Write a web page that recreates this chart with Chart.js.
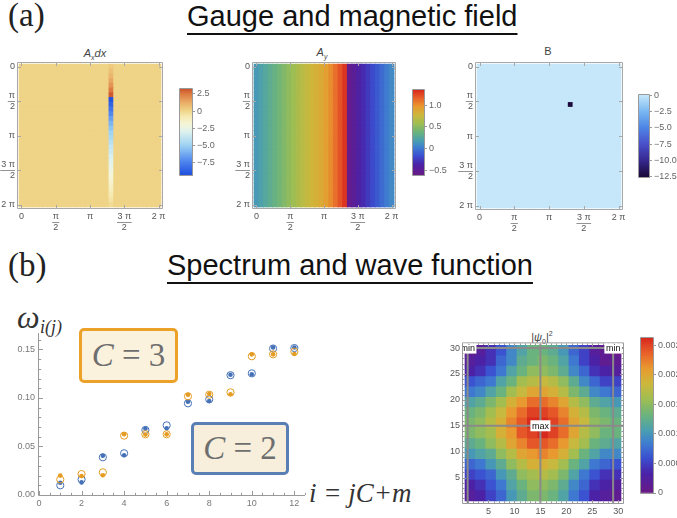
<!DOCTYPE html>
<html>
<head>
<meta charset="utf-8">
<script src="https://cdn.jsdelivr.net/npm/chart.js@4.4.1/dist/chart.umd.min.js"></script>
<style>
html, body { margin: 0; padding: 0; background: #fff; }
body { position: relative; width: 677px; height: 518px; overflow: hidden; font-family: "Liberation Sans", Arial, sans-serif; }
canvas { position: absolute; }
.t { position: absolute; white-space: nowrap; }
.head { font-size: 29px; line-height: 29px; color: #111; text-decoration: underline; text-decoration-thickness: 1.5px;
        text-underline-offset: 7px; text-decoration-skip-ink: none; }
.lab { font-family: "Liberation Serif", serif; font-size: 33px; line-height: 33px; color: #222; }
.ptitle { font-size: 11px; line-height: 12px; color: #444; text-align: center; }
.cbox { position: absolute; box-sizing: border-box; border: 3px solid; border-radius: 5px; display: flex;
        align-items: center; justify-content: center; font-family: "Liberation Serif", serif; font-size: 33px; color: #6e6e6e; }
.serif { font-family: "Liberation Serif", serif; font-style: italic; color: #333; }
</style>
</head>
<body>

<div class="t lab" style="left:8px;top:-1px">(a)</div>
<div class="t head" style="left:187px;top:2px">Gauge and magnetic field</div>
<div class="t lab" style="left:8px;top:249px">(b)</div>
<div class="t head" style="left:167px;top:251px">Spectrum and wave function</div>

<div class="t ptitle" style="left:60px;top:47px;width:70px"><i>A</i><sub style="font-size:7px"><i>x</i></sub><i>dx</i></div>
<div class="t ptitle" style="left:292px;top:46px;width:60px"><i>A</i><sub style="font-size:7px"><i>y</i></sub></div>
<div class="t ptitle" style="left:518px;top:45px;width:60px">B</div>
<div class="t ptitle" style="left:507px;top:328px;width:70px">|<i>ψ</i><sub style="font-size:7px">0</sub>|<sup style="font-size:7px">2</sup></div>

<div class="t serif" style="left:17px;top:301px;font-size:32px;line-height:32px">ω</div>
<div class="t serif" style="left:40px;top:318px;font-size:18px;line-height:18px">i(j)</div>
<div class="t serif" style="left:309px;top:480px;font-size:27px;line-height:27px">i = jC+m</div>

<script>
// ---------- data ----------
const N = 30;                       // lattice points per side
const TWO_PI = 2 * Math.PI;
const piTicks = [0, Math.PI / 2, Math.PI, 3 * Math.PI / 2, 2 * Math.PI];
const piLabels = ['0', ['π', '2'], 'π', ['3 π', '2'], '2 π'];

// A_x dx : zero except the string column, values from top row to bottom row
const axColumn = 19;
const axStrip = [0.3, 0.6, 0.9, 1.3, 1.8, 2.4, 3.0, -9.2, -8.6, -8.0, -7.3, -6.6, -6.0, -5.5, -5.0,
                 -4.6, -4.2, -3.8, -3.5, -3.2, -2.9, -2.6, -2.3, -2.0, -1.8, -1.5, -1.2, -0.9, -0.6, -0.3];

// A_y : constant along y, one value per column
const ayColumns = [0.14, 0.19, 0.24, 0.29, 0.34, 0.39, 0.45, 0.51, 0.56, 0.62, 0.67, 0.72, 0.77, 0.82, 0.86,
                   0.92, 1.00, 1.10, 1.20, 1.30, -0.58, -0.50, -0.42, -0.35, -0.28, -0.21, -0.14, -0.07, 0.00, 0.06];

// B : one flux plaquette
const bCell = { col: 19, row: 8, value: -12.5 };

// colour bar ticks
const axBarTicks = [-7.5, -5, -2.5, 0, 2.5];
const ayBarTicks = [-0.5, 0, 0.5, 1.0];
const bBarTicks = [-12.5, -10, -7.5, -5, -2.5, 0];

// spectrum, i = 1..12
const levels = [1, 2, 3, 4, 5, 6, 7, 8, 9, 10, 11, 12];
const c3Filled = [0.0200, 0.0196, 0.0203, 0.0626, 0.0623, 0.0625, 0.1034, 0.1041, 0.1038, 0.1450, 0.1450, 0.1454];
const c3Open   = [0.0160, 0.0216, 0.0234, 0.0612, 0.0626, 0.0626, 0.1017, 0.1034, 0.1058, 0.1430, 0.1450, 0.1477];
const c2Filled = [0.0127, 0.0130, 0.0405, 0.0410, 0.0684, 0.0687, 0.0962, 0.0969, 0.1240, 0.1244, 0.1520, 0.1520];
const c2Open   = [0.0100, 0.0160, 0.0389, 0.0430, 0.0670, 0.0718, 0.0945, 0.0986, 0.1235, 0.1254, 0.1510, 0.1515];
const spectrumXTicks = [0, 2, 4, 6, 8, 10, 12];
const spectrumYTicks = [0, 0.05, 0.10, 0.15];

// |psi_0|^2 in units of 1e-4, 2x2 blocks, rows from top (y=29.5) to bottom (y=1.5)
const psiRows = [
  [1, 2, 4, 6, 9, 11, 13, 13, 12, 10, 7, 5, 2, 1, 0],
  [2, 3, 4, 7, 9, 12, 13, 14, 13, 11, 8, 5, 3, 1, 1],
  [3, 4, 6, 8, 11, 13, 15, 15, 14, 12, 9, 7, 4, 3, 2],
  [6, 7, 8, 11, 13, 16, 17, 18, 17, 15, 12, 9, 7, 5, 5],
  [8, 9, 11, 13, 16, 18, 20, 20, 19, 17, 14, 12, 9, 8, 7],
  [11, 12, 14, 16, 19, 21, 23, 23, 22, 20, 17, 15, 12, 11, 10],
  [13, 14, 16, 18, 21, 23, 25, 25, 24, 22, 19, 17, 14, 13, 12],
  [14, 15, 17, 19, 22, 24, 26, 26, 25, 23, 20, 18, 15, 14, 13],
  [14, 15, 16, 19, 21, 24, 25, 26, 25, 23, 20, 17, 15, 13, 13],
  [12, 13, 15, 17, 20, 22, 24, 24, 23, 21, 18, 16, 13, 12, 11],
  [10, 11, 12, 15, 17, 20, 21, 22, 21, 19, 16, 13, 11, 9, 9],
  [7, 8, 10, 12, 15, 17, 19, 19, 18, 16, 13, 11, 8, 7, 6],
  [5, 6, 7, 10, 12, 15, 16, 17, 16, 14, 11, 8, 6, 4, 4],
  [3, 4, 6, 8, 11, 13, 15, 15, 14, 12, 9, 7, 4, 3, 2],
  [2, 3, 5, 7, 10, 12, 14, 14, 13, 11, 8, 6, 3, 2, 1]
];
const psiMax = 26.2;
const psiBarTicks = [0, 5, 10, 15, 20, 25];
const waveTicks = [5, 10, 15, 20, 25, 30];
const waveLinesX = [1, 15, 29];
const waveLinesY = [15, 30];
const waveMarks = [{ x: 1, y: 30, text: 'min' }, { x: 29, y: 30, text: 'min' }, { x: 15, y: 15, text: 'max' }];

// ---------- colour maps ----------
function makeMap(stops) {
  const s = stops.map(([v, c]) => [v, parseInt(c.slice(1, 3), 16), parseInt(c.slice(3, 5), 16), parseInt(c.slice(5, 7), 16)]);
  return v => {
    let a = s[0], b = s[s.length - 1];
    if (v <= a[0]) b = a;
    else if (v >= b[0]) a = b;
    else for (let i = 1; i < s.length; i++) if (v <= s[i][0]) { a = s[i - 1]; b = s[i]; break; }
    const t = b[0] === a[0] ? 0 : (v - a[0]) / (b[0] - a[0]);
    return 'rgb(' + [1, 2, 3].map(k => Math.round(a[k] + (b[k] - a[k]) * t)).join(',') + ')';
  };
}
const rainbowStops = [[0, '#6a1b86'], [0.12, '#4a22a8'], [0.22, '#3b4fd0'], [0.32, '#3f7fd0'], [0.40, '#4a9fb0'],
  [0.50, '#6cb47c'], [0.60, '#9ebe52'], [0.70, '#cdb83c'], [0.80, '#e89a30'], [0.90, '#e8602a'], [1, '#d6261e']];
const rainbow = (lo, hi) => makeMap(rainbowStops.map(([f, c]) => [lo + f * (hi - lo), c]));

const axMap = makeMap([[-9.3, '#2150de'], [-7.5, '#4a82ee'], [-5, '#9fd3f3'], [-3.0, '#dff2ee'], [-2.0, '#f5f5d8'],
  [-0.8, '#f6e9b0'], [0, '#efd386'], [1.2, '#e9ac66'], [2.4, '#dc7a40'], [3.2, '#c9512a']]);
const ayMap = rainbow(-0.62, 1.35);
const bMap = makeMap([[-12.5, '#1c0a3c'], [-10, '#382a94'], [-7.5, '#4a52cc'], [-5, '#4e86e6'], [-2.5, '#7ab8f2'], [0, '#c6e7fa']]);
const psiMap = rainbow(0, psiMax);

// ---------- chart setup ----------
Chart.defaults.font.family = '"Liberation Sans", Arial, sans-serif';
Chart.defaults.font.size = 9;
Chart.defaults.color = '#555';
Chart.defaults.animation = false;
Chart.defaults.responsive = false;
Chart.defaults.events = [];
Chart.defaults.plugins.legend.display = false;
Chart.defaults.plugins.tooltip.enabled = false;

const noGrid = { display: false, drawTicks: false };

function place(left, top, w, h) {
  const c = document.createElement('canvas');
  c.width = w; c.height = h;
  c.style.left = left + 'px'; c.style.top = top + 'px';
  c.style.width = w + 'px'; c.style.height = h + 'px';
  document.body.appendChild(c);
  return c;
}

// frame / axis lines with inward tick marks
const tickFrame = {
  id: 'tickFrame',
  afterDatasetsDraw(chart, args, o) {
    const { ctx, chartArea: a, scales } = chart;
    ctx.save();
    ctx.strokeStyle = o.color || '#999';
    ctx.lineWidth = 1;
    ctx.beginPath();
    if (o.box) ctx.rect(a.left - 0.5, a.top - 0.5, a.right - a.left + 1, a.bottom - a.top + 1);
    else {
      ctx.moveTo(a.left - 0.5, a.top); ctx.lineTo(a.left - 0.5, a.bottom + 0.5); ctx.lineTo(a.right, a.bottom + 0.5);
    }
    if (!o.noTicks) {
      const len = o.len || 3;
      if (scales.x) scales.x.ticks.forEach(t => {
        const px = Math.round(scales.x.getPixelForValue(t.value)) + 0.5;
        const l = t.label === '' ? len * 0.55 : len;
        ctx.moveTo(px, a.bottom); ctx.lineTo(px, a.bottom - l);
        if (o.box) { ctx.moveTo(px, a.top); ctx.lineTo(px, a.top + l); }
      });
      if (scales.y) scales.y.ticks.forEach(t => {
        const py = Math.round(scales.y.getPixelForValue(t.value)) + 0.5;
        const l = t.label === '' ? len * 0.55 : len;
        ctx.moveTo(a.left, py); ctx.lineTo(a.left + l, py);
        if (o.box) { ctx.moveTo(a.right, py); ctx.lineTo(a.right - l, py); }
      });
    }
    ctx.stroke();
    ctx.restore();
  }
};

// horizontal bars for stacked fraction tick labels
const fracBars = {
  id: 'fracBars',
  afterDraw(chart) {
    const { ctx } = chart;
    ctx.save();
    ctx.strokeStyle = '#777'; ctx.lineWidth = 0.8;
    ctx.font = '9px "Liberation Sans", Arial, sans-serif';
    const lh = 9 * 1.2;
    ['x', 'y'].forEach(id => {
      const sc = chart.scales[id];
      const pad = sc.options.ticks.padding;
      sc.ticks.forEach(t => {
        if (!Array.isArray(t.label)) return;
        const w = Math.max(...t.label.map(s => ctx.measureText(s).width)) + 1;
        const p = sc.getPixelForValue(t.value);
        ctx.beginPath();
        if (id === 'x') {
          const y = Math.round(sc.top + pad + lh) + 0.5;
          ctx.moveTo(p - w / 2, y); ctx.lineTo(p + w / 2, y);
        } else {
          const x = sc.right - pad;
          const y = Math.round(p) + 0.5;
          ctx.moveTo(x - w, y); ctx.lineTo(x, y);
        }
        ctx.stroke();
      });
    });
    ctx.restore();
  }
};

// white boxed labels on the wave function map
const markLabels = {
  id: 'markLabels',
  afterDatasetsDraw(chart, args, o) {
    const { ctx, chartArea: a, scales } = chart;
    ctx.save();
    ctx.beginPath(); ctx.rect(a.left, a.top, a.right - a.left, a.bottom - a.top); ctx.clip();
    ctx.font = '9px "Liberation Sans", Arial, sans-serif';
    ctx.textAlign = 'center'; ctx.textBaseline = 'middle';
    o.marks.forEach(m => {
      const px = scales.x.getPixelForValue(m.x), py = scales.y.getPixelForValue(m.y);
      const w = ctx.measureText(m.text).width + 3;
      ctx.fillStyle = '#fff';
      ctx.fillRect(px - w / 2, py - 5.5, w, 11);
      ctx.fillStyle = '#111';
      ctx.fillText(m.text, px, py + 0.5);
    });
    ctx.restore();
  }
};

const cellRadius = (dx, dy) => ctx => {
  const { x, y } = ctx.chart.scales;
  const w = Math.abs(x.getPixelForValue(dx) - x.getPixelForValue(0));
  const h = Math.abs(y.getPixelForValue(dy) - y.getPixelForValue(0));
  return (Math.max(w, h) + 0.8) / Math.SQRT2;
};

// ---------- top row: gauge field maps ----------
const step = TWO_PI / (N - 1);
function latticeCells(valueAt) {
  const cells = [];
  for (let j = 0; j < N; j++) for (let k = 0; k < N; k++) cells.push({ x: k * step, y: j * step, v: valueAt(k, j) });
  return cells;
}

function piMap(canvas, cells, cmap, pad, yw, xh) {
  const piAxis = extra => Object.assign({
    min: -0.16, max: 6.44,
    afterBuildTicks: s => { s.ticks = piTicks.map(v => ({ value: v })); },
    grid: noGrid, border: { display: false }
  }, extra);
  return new Chart(canvas, {
    type: 'scatter',
    data: { datasets: [{ data: cells, pointStyle: 'rect', borderWidth: 0, clip: 0,
      pointRadius: cellRadius(step, step), backgroundColor: c => c.raw ? cmap(c.raw.v) : '#000' }] },
    options: {
      layout: { padding: pad },
      scales: {
        x: piAxis({ afterFit: s => { s.height = xh; }, ticks: { autoSkip: false, maxRotation: 0, padding: 3,
          callback: (v, i) => piLabels[i], color: '#555' } }),
        y: piAxis({ reverse: true, afterFit: s => { s.width = yw; }, ticks: { autoSkip: false, padding: 3,
          callback: (v, i) => piLabels[i], color: '#555' } })
      },
      plugins: { tickFrame: { box: true, color: '#a8a8a8', len: 3 } }
    },
    plugins: [tickFrame, fracBars]
  });
}

function colorbar(canvas, min, max, ticks, fmt, cmap, pad, axisW, fontSize) {
  const n = 90, datasets = [];
  for (let i = 0; i < n; i++) {
    const lo = min + (max - min) * i / n, hi = min + (max - min) * (i + 1.4) / n;
    datasets.push({ data: [[lo, Math.min(hi, max)]], backgroundColor: cmap((lo + hi) / 2), borderWidth: 0 });
  }
  return new Chart(canvas, {
    type: 'bar',
    data: { labels: [''], datasets },
    options: {
      layout: { padding: pad },
      datasets: { bar: { grouped: false, barPercentage: 1, categoryPercentage: 1 } },
      scales: {
        x: { display: false },
        y: { position: 'right', min, max, afterFit: s => { s.width = axisW; },
          afterBuildTicks: s => { s.ticks = ticks.map(v => ({ value: v })); },
          ticks: { autoSkip: false, padding: 2, callback: (v, i) => fmt(ticks[i]), color: '#666', font: { size: fontSize || 9 } },
          grid: { drawOnChartArea: false, tickLength: 3, color: '#999' }, border: { color: '#999' } }
      },
      plugins: { tickFrame: { box: true, color: '#999', noTicks: true } }
    },
    plugins: [tickFrame]
  });
}

const fmt1 = v => v === 0 ? '0' : (v < 0 ? '\u2212' : '') + Math.abs(v).toFixed(1);

piMap(place(0, 45, 170, 195), latticeCells((k, j) => k === axColumn ? axStrip[j] : 0), axMap,
  { left: 0, top: 18, right: 8, bottom: 0 }, 18, 32);
colorbar(place(170, 80, 60, 105), -9.24, 3.18, axBarTicks, fmt1, axMap, { left: 10, top: 9, bottom: 10 }, 38);

piMap(place(230, 45, 175, 195), latticeCells(k => ayColumns[k]), ayMap,
  { left: 0, top: 18, right: 10, bottom: 0 }, 23, 32);
colorbar(place(403, 80, 60, 105), -0.615, 1.35, ayBarTicks, fmt1, ayMap, { left: 10, top: 10, bottom: 10 }, 39);

piMap(place(455, 45, 175, 195), latticeCells((k, j) => (k === bCell.col && j === bCell.row) ? bCell.value : 0), bMap,
  { left: 0, top: 18, right: 8, bottom: 0 }, 21, 31);
colorbar(place(629, 85, 48, 100), -12.6, 0.1, bBarTicks, fmt1, bMap, { left: 10, top: 10, bottom: 8 }, 28);

// ---------- bottom left: spectrum ----------
const orange = '#e59c22', blue = '#4571b6';
const pts = ys => levels.map((x, i) => ({ x, y: ys[i] }));
const filled = (ys, col) => ({ data: pts(ys), pointRadius: 2.3, backgroundColor: col, borderWidth: 0 });
const open = (ys, col) => ({ data: pts(ys), pointRadius: 3.6, backgroundColor: 'rgba(255,255,255,0)', borderColor: col, borderWidth: 1 });
const tickRun = (lo, hi, d) => {
  const out = [];
  for (let v = lo; v <= hi + 1e-9; v += d) out.push({ value: +v.toFixed(4) });
  return out;
};

new Chart(place(0, 300, 312, 218), {
  type: 'scatter',
  data: { datasets: [open(c3Open, orange), filled(c3Filled, orange), open(c2Open, blue), filled(c2Filled, blue)] },
  options: {
    layout: { padding: { left: 0, top: 33, right: 7, bottom: 0 } },
    scales: {
      x: { min: 0, max: 12.5, afterFit: s => { s.height = 23; },
        afterBuildTicks: s => { s.ticks = tickRun(0, 12.5, 0.5); },
        ticks: { autoSkip: false, maxRotation: 0, padding: 3, color: '#777',
          callback: v => spectrumXTicks.includes(v) ? String(v) : '' },
        grid: noGrid, border: { display: false } },
      y: { min: 0, max: 0.167, afterFit: s => { s.width = 39; },
        afterBuildTicks: s => { s.ticks = tickRun(0, 0.16, 0.01); },
        ticks: { autoSkip: false, padding: 4, color: '#777',
          callback: v => spectrumYTicks.some(m => Math.abs(m - v) < 1e-6) ? v.toFixed(2) : '' },
        grid: noGrid, border: { display: false } }
    },
    plugins: { tickFrame: { box: false, color: '#999', len: 4 } }
  },
  plugins: [tickFrame]
});

// ---------- bottom right: wave function ----------
const waveCells = [];
psiRows.forEach((row, r) => row.forEach((v, c) => waveCells.push({ x: 1.5 + 2 * c, y: 29.5 - 2 * r, v })));
const guide = pts2 => ({ type: 'line', data: pts2, borderColor: '#8a8a8a', borderWidth: 2, pointRadius: 0, order: 1, clip: 0 });
const guides = waveLinesX.map(x => guide([{ x, y: 0.1 }, { x, y: 30.9 }]))
  .concat(waveLinesY.map(y => guide([{ x: 0.1, y }, { x: 30.9, y }])));

new Chart(place(440, 335, 190, 183), {
  type: 'scatter',
  data: { datasets: [{ data: waveCells, pointStyle: 'rect', borderWidth: 0, clip: 0, order: 2,
    pointRadius: cellRadius(2, 2), backgroundColor: c => c.raw ? psiMap(c.raw.v) : '#000' }].concat(guides) },
  options: {
    layout: { padding: { left: 0, top: 8, right: 7, bottom: 0 } },
    scales: {
      x: { min: 0.1, max: 30.9, afterFit: s => { s.height = 15; },
        afterBuildTicks: s => { s.ticks = tickRun(1, 30, 1); },
        ticks: { autoSkip: false, maxRotation: 0, padding: 3, color: '#555', callback: v => waveTicks.includes(v) ? String(v) : '' },
        grid: noGrid, border: { display: false } },
      y: { min: 0.1, max: 30.9, afterFit: s => { s.width = 23; },
        afterBuildTicks: s => { s.ticks = tickRun(1, 30, 1); },
        ticks: { autoSkip: false, padding: 3, color: '#555', callback: v => waveTicks.includes(v) ? String(v) : '' },
        grid: noGrid, border: { display: false } }
    },
    plugins: { tickFrame: { box: true, color: '#999', len: 3 }, markLabels: { marks: waveMarks } }
  },
  plugins: [tickFrame, markLabels]
});
colorbar(place(630, 330, 60, 175), 0, psiMax, psiBarTicks, v => String(v / 10000), psiMap,
  { left: 11, top: 8, bottom: 12 }, 37, 9);
</script>

<div class="cbox" style="left:79px;top:328px;width:99px;height:55px;border-color:#eca228;background:#fbf2de"><span><i>C</i> = 3</span></div>
<div class="cbox" style="left:191px;top:422px;width:98px;height:53px;border-color:#5a7fb5;background:#f7efdc"><span><i>C</i> = 2</span></div>

</body>
</html>
